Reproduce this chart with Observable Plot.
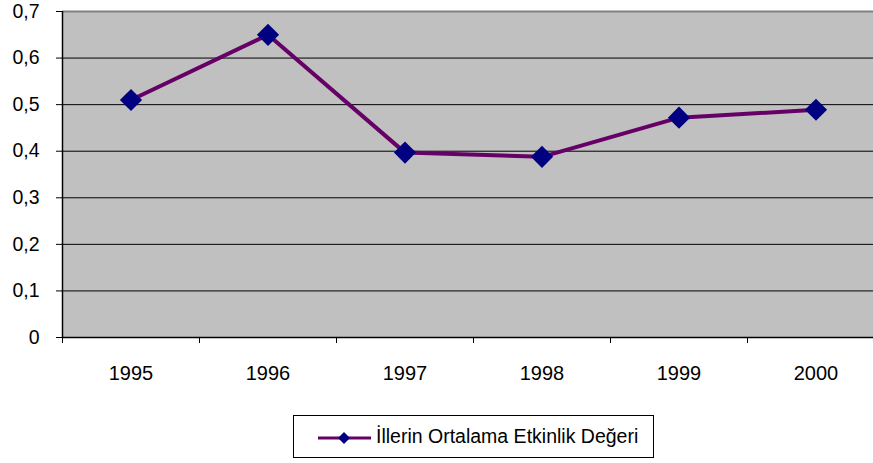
<!DOCTYPE html>
<html>
<head>
<meta charset="utf-8">
<script src="https://cdn.jsdelivr.net/npm/d3@7"></script>
<script src="https://cdn.jsdelivr.net/npm/@observablehq/plot@0.6"></script>
<style>
  html, body { margin: 0; padding: 0; background: #fff; overflow: hidden; }
  #wrap { position: relative; width: 873px; height: 463px; font-family: "Liberation Sans", Arial, sans-serif; }
  #chart { position: absolute; left: 0; top: 0; }
  #legend { position: absolute; left: 293px; top: 415px; width: 359px; height: 41px; border: 1px solid #000; box-sizing: content-box; background: #fff; }
  #legend svg { position: absolute; left: 23px; top: 12px; }
  #legend span { position: absolute; left: 82px; top: 9px; font-size: 19.5px; color: #000; white-space: nowrap; }
</style>
</head>
<body>
<div id="wrap">
  <div id="chart"></div>
  <div id="legend"></div>
</div>
<script>
const years = [1995, 1996, 1997, 1998, 1999, 2000];
const values = [0.51, 0.65, 0.397, 0.388, 0.472, 0.489];
const yTicks = [0, 0.1, 0.2, 0.3, 0.4, 0.5, 0.6, 0.7];
const gridTicks = [0.1, 0.2, 0.3, 0.4, 0.5, 0.6];
const xBounds = [1994.5, 1995.5, 1996.5, 1997.5, 1998.5, 1999.5, 2000.5];
const seriesName = "İllerin Ortalama Etkinlik Değeri";

const data = years.map((y, i) => ({year: y, value: values[i]}));
const xMin = xBounds[0], xMax = xBounds[xBounds.length - 1];
const yMin = yTicks[0], yMax = yTicks[yTicks.length - 1];
const fmt = d => d === 0 ? "0" : d.toFixed(1).replace(".", ",");

const plot = Plot.plot({
  width: 873,
  height: 400,
  marginLeft: 62,
  marginTop: 11,
  marginBottom: 63,
  marginRight: 0,
  style: {fontFamily: "Liberation Sans, Arial, sans-serif", background: "transparent", overflow: "hidden"},
  x: {type: "linear", domain: [xMin, xMax], range: [62, 884]},
  y: {domain: [yMin, yMax], range: [337, 11]},
  marks: [
    Plot.rect([{}], {x1: xMin, x2: xMax, y1: yMin, y2: yMax, fill: "#c0c0c0"}),
    Plot.ruleY(gridTicks, {x1: xMin, x2: xMax, stroke: "#000", strokeWidth: 1}),
    Plot.ruleY([yMax], {x1: xMin, x2: xMax, stroke: "#808080", strokeWidth: 2}),
    Plot.ruleY([yMin], {x1: xMin, x2: xMax, stroke: "#000", strokeWidth: 1.5}),
    Plot.ruleX([xMin], {y1: yMin, y2: yMax, stroke: "#000", strokeWidth: 1.5}),
    Plot.axisY({ticks: yTicks, tickFormat: fmt, tickSize: 6, tickPadding: 17, fontSize: 19.5, stroke: "#000", label: null, color: "#000"}),
    Plot.axisX({ticks: xBounds, tickFormat: () => "", tickSize: 6, label: null, stroke: "#000"}),
    Plot.axisX({ticks: years, tickFormat: d => String(d), tickSize: 0, tickPadding: 28, fontSize: 20, label: null, color: "#000"}),
    Plot.line(data, {x: "year", y: "value", stroke: "#660066", strokeWidth: 4}),
    Plot.dot(data, {x: "year", y: "value", symbol: "diamond2", fill: "#000080", stroke: "none", r: 10})
  ]
});
document.getElementById("chart").appendChild(plot);

const legend = document.getElementById("legend");
legend.innerHTML = `<svg width="56" height="20" viewBox="0 0 56 20">
  <line x1="1" x2="54" y1="10" y2="10" stroke="#660066" stroke-width="3"/>
  <path d="M27 4 L33 10 L27 16 L21 10 Z" fill="#000080"/>
</svg><span></span>`;
legend.querySelector("span").textContent = seriesName;
</script>
</body>
</html>
